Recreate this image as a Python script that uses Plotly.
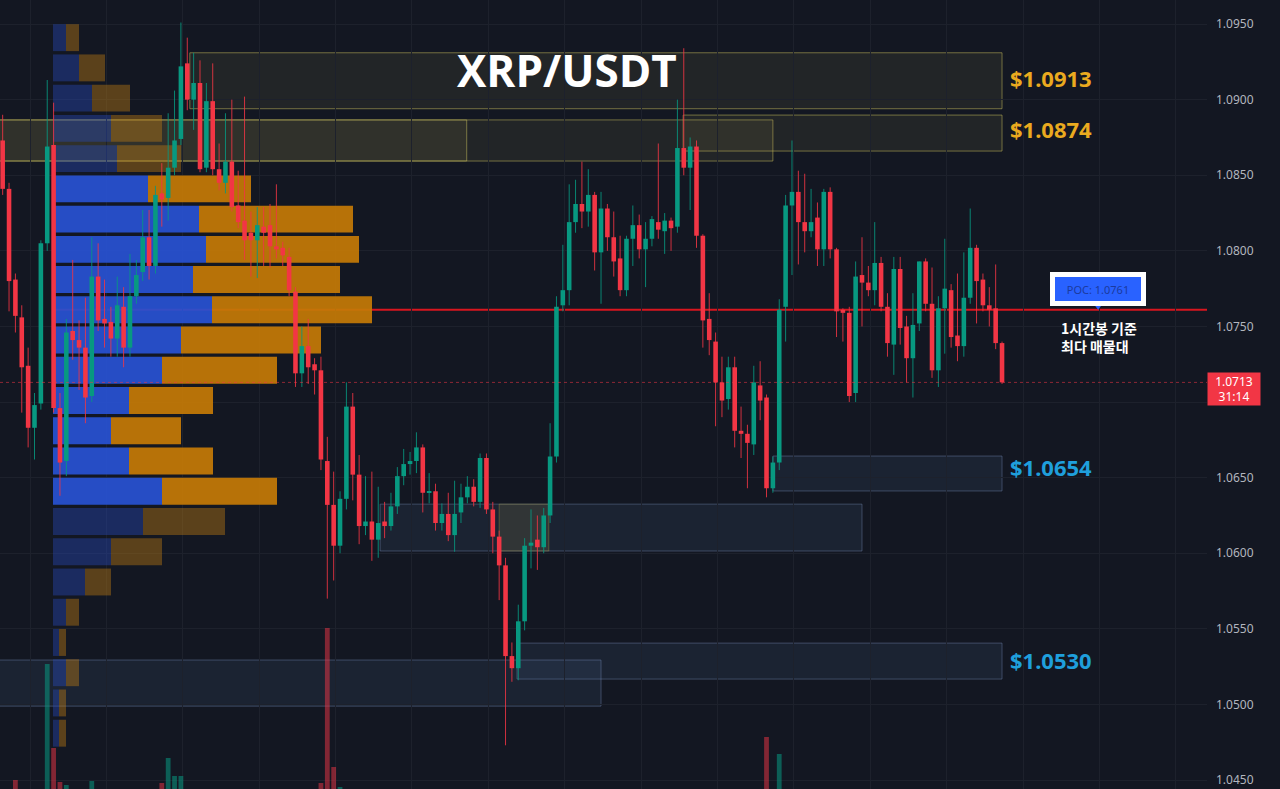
import plotly.graph_objects as go

# ---------------- data ----------------
opens = [1.0873,1.0841,1.0781,1.0756,1.0724,1.0683,1.0699,1.0805,1.0870,1.0696,
         1.0661,1.0747,1.0741,1.0736,1.0704,1.0783,1.0755,1.0753,1.0742,1.0763,
         1.0736,1.0770,1.0786,1.0809,1.0790,1.0838,1.0835,1.0855,1.0874,1.0924,
         1.0900,1.0911,1.0855,1.0899,1.0854,1.0845,1.0859,1.0830,1.0820,1.0812,
         1.0807,1.0816,1.0817,1.0803,1.0802,1.0796,1.0773,1.0719,1.0737,1.0725,
         1.0721,1.0661,1.0632,1.0605,1.0636,1.0697,1.0652,1.0618,1.0621,1.0609,
         1.0621,1.0618,1.0631,1.0651,1.0659,1.0661,1.0670,1.0640,1.0641,1.0620,
         1.0626,1.0612,1.0627,1.0637,1.0644,1.0634,1.0663,1.0629,1.0611,1.0592,
         1.0532,1.0524,1.0555,1.0605,1.0609,1.0604,1.0625,1.0664,1.0764,1.0774,
         1.0819,1.0831,1.0826,1.0837,1.0799,1.0828,1.0809,1.0795,1.0774,1.0808,
         1.0817,1.0801,1.0808,1.0819,1.0813,1.0820,1.0816,1.0868,1.0855,1.0869,
         1.0810,1.0755,1.0740,1.0713,1.0702,1.0723,1.0681,1.0679,1.0672,1.0711,
         1.0703,1.0643,1.0660,1.0763,1.0830,1.0839,1.0819,1.0813,1.0822,1.0801,
         1.0839,1.0801,1.0761,1.0759,1.0706,1.0784,1.0779,1.0774,1.0792,1.0763,
         1.0738,1.0788,1.0750,1.0729,1.0752,1.0793,1.0765,1.0721,1.0762,1.0774,
         1.0744,1.0737,1.0769,1.0802,1.0781,1.0764,1.0762,1.0739]
highs = [1.0890,1.0845,1.0785,1.0764,1.0736,1.0706,1.0807,1.0913,1.0898,1.0706,
         1.0755,1.0794,1.0754,1.0769,1.0809,1.0805,1.0781,1.0763,1.0783,1.0776,
         1.0798,1.0794,1.0827,1.0827,1.0843,1.0858,1.0891,1.0906,1.0951,1.0941,
         1.0931,1.0926,1.0911,1.0924,1.0871,1.0891,1.0900,1.0853,1.0902,1.0826,
         1.0829,1.0829,1.0831,1.0844,1.0806,1.0802,1.0776,1.0750,1.0755,1.0729,
         1.0730,1.0677,1.0654,1.0641,1.0713,1.0706,1.0665,1.0651,1.0654,1.0644,
         1.0634,1.0640,1.0657,1.0669,1.0667,1.0680,1.0672,1.0653,1.0646,1.0633,
         1.0640,1.0648,1.0646,1.0651,1.0649,1.0666,1.0666,1.0634,1.0615,1.0597,
         1.0541,1.0566,1.0610,1.0629,1.0625,1.0630,1.0686,1.0770,1.0804,1.0844,
         1.0847,1.0859,1.0854,1.0839,1.0839,1.0831,1.0826,1.0810,1.0810,1.0830,
         1.0824,1.0819,1.0823,1.0871,1.0825,1.0822,1.0900,1.0934,1.0875,1.0873,
         1.0811,1.0772,1.0746,1.0730,1.0730,1.0730,1.0697,1.0685,1.0724,1.0727,
         1.0705,1.0664,1.0768,1.0837,1.0873,1.0853,1.0851,1.0841,1.0832,1.0841,
         1.0842,1.0802,1.0762,1.0763,1.0793,1.0809,1.0790,1.0819,1.0796,1.0772,
         1.0796,1.0796,1.0757,1.0772,1.0793,1.0795,1.0789,1.0770,1.0808,1.0778,
         1.0785,1.0799,1.0828,1.0804,1.0785,1.0776,1.0791,1.0740]
lows = [1.0837,1.0760,1.0746,1.0693,1.0670,1.0662,1.0695,1.0800,1.0693,1.0638,
        1.0651,1.0728,1.0708,1.0686,1.0700,1.0747,1.0736,1.0730,1.0730,1.0723,
        1.0730,1.0765,1.0780,1.0781,1.0785,1.0816,1.0820,1.0850,1.0870,1.0893,
        1.0880,1.0852,1.0852,1.0850,1.0840,1.0838,1.0826,1.0815,1.0794,1.0783,
        1.0782,1.0790,1.0789,1.0795,1.0790,1.0770,1.0710,1.0710,1.0712,1.0705,
        1.0655,1.0570,1.0582,1.0600,1.0629,1.0635,1.0606,1.0612,1.0595,1.0597,
        1.0610,1.0615,1.0626,1.0645,1.0652,1.0653,1.0627,1.0633,1.0615,1.0615,
        1.0608,1.0601,1.0620,1.0633,1.0631,1.0630,1.0626,1.0600,1.0569,1.0473,
        1.0515,1.0516,1.0549,1.0590,1.0589,1.0600,1.0620,1.0660,1.0760,1.0764,
        1.0812,1.0815,1.0816,1.0787,1.0765,1.0800,1.0783,1.0770,1.0770,1.0790,
        1.0795,1.0776,1.0803,1.0808,1.0798,1.0800,1.0812,1.0850,1.0827,1.0802,
        1.0736,1.0731,1.0684,1.0690,1.0695,1.0670,1.0663,1.0643,1.0665,1.0688,
        1.0637,1.0640,1.0655,1.0740,1.0784,1.0791,1.0799,1.0809,1.0790,1.0790,
        1.0795,1.0743,1.0740,1.0700,1.0700,1.0750,1.0770,1.0764,1.0760,1.0730,
        1.0718,1.0738,1.0713,1.0703,1.0747,1.0760,1.0716,1.0710,1.0732,1.0736,
        1.0727,1.0730,1.0765,1.0752,1.0760,1.0750,1.0735,1.0712]
closes = [1.0841,1.0780,1.0757,1.0723,1.0683,1.0698,1.0805,1.0869,1.0696,1.0660,
          1.0746,1.0741,1.0736,1.0703,1.0783,1.0754,1.0752,1.0742,1.0764,1.0736,
          1.0770,1.0784,1.0809,1.0790,1.0837,1.0834,1.0855,1.0873,1.0922,1.0900,
          1.0911,1.0854,1.0899,1.0854,1.0845,1.0859,1.0829,1.0819,1.0807,1.0807,
          1.0817,1.0812,1.0803,1.0801,1.0797,1.0774,1.0719,1.0737,1.0723,1.0721,
          1.0662,1.0632,1.0605,1.0636,1.0697,1.0652,1.0618,1.0621,1.0609,1.0620,
          1.0618,1.0631,1.0651,1.0659,1.0661,1.0670,1.0640,1.0641,1.0620,1.0626,
          1.0612,1.0626,1.0637,1.0644,1.0634,1.0663,1.0629,1.0611,1.0592,1.0532,
          1.0524,1.0555,1.0605,1.0607,1.0604,1.0625,1.0664,1.0763,1.0774,1.0819,
          1.0831,1.0826,1.0837,1.0799,1.0828,1.0809,1.0793,1.0774,1.0808,1.0817,
          1.0801,1.0808,1.0821,1.0814,1.0820,1.0815,1.0868,1.0855,1.0869,1.0810,
          1.0754,1.0741,1.0713,1.0701,1.0723,1.0681,1.0679,1.0673,1.0713,1.0701,
          1.0643,1.0660,1.0761,1.0830,1.0839,1.0819,1.0813,1.0819,1.0801,1.0839,
          1.0801,1.0760,1.0759,1.0704,1.0783,1.0779,1.0774,1.0792,1.0763,1.0739,
          1.0788,1.0749,1.0729,1.0751,1.0793,1.0765,1.0721,1.0762,1.0775,1.0743,
          1.0737,1.0769,1.0802,1.0780,1.0764,1.0761,1.0739,1.0713]
volumes = [72, 64, 109, 58, 66, 81, 70, 225, 141, 107,
           104, 62, 48, 55, 108, 60, 44, 41, 52, 47,
           50, 45, 63, 49, 71, 106, 131, 113, 113, 88,
           75, 84, 70, 77, 52, 58, 66, 49, 72, 44,
           41, 38, 46, 50, 39, 57, 83, 55, 47, 42,
           106, 261, 122, 102, 86, 74, 69, 45, 52, 48,
           36, 41, 57, 44, 33, 46, 62, 38, 51, 40,
           47, 53, 45, 39, 42, 66, 71, 63, 79, 97,
           85, 78, 92, 54, 49, 61, 88, 97, 74, 83,
           58, 55, 47, 61, 66, 49, 52, 58, 62, 50,
           48, 44, 41, 63, 39, 37, 94, 98, 66, 89,
           91, 57, 73, 52, 49, 77, 46, 60, 81, 58,
           152, 64, 135, 96, 72, 61, 48, 42, 55, 63,
           59, 74, 38, 80, 77, 52, 35, 58, 49, 54,
           71, 62, 55, 60, 64, 51, 68, 66, 57, 53,
           48, 59, 67, 61, 44, 37, 52, 46]

# volume profile (price bins, buy / sell volume)
profile_prices = [1.0941, 1.0921, 1.0901, 1.0881, 1.0861, 1.0841, 1.0821, 1.0801,
                  1.0781, 1.0761, 1.0741, 1.0721, 1.0701, 1.0681, 1.0661, 1.0641,
                  1.0621, 1.0601, 1.0581, 1.0561, 1.0541, 1.0521, 1.0501, 1.0481]
buy_vol = [13, 26, 39, 58, 64, 95, 146, 153, 140, 159, 128, 109,
           76, 58, 76, 109, 90, 58, 32, 13, 6, 13, 6, 6]
sell_vol = [13, 26, 38, 51, 64, 103, 154, 153, 147, 160, 140, 115,
            84, 70, 84, 115, 82, 51, 26, 13, 7, 13, 7, 7]
value_area = (1.0640, 1.0845)

poc_price = 1.0761
last_price = 1.0713
countdown = "31:14"
levels_yellow = [1.0913, 1.0874]
levels_blue = [1.0654, 1.0530]
y_ticks = [1.0450, 1.0500, 1.0550, 1.0600, 1.0650, 1.0700, 1.0750, 1.0800, 1.0850, 1.0900, 1.0950]
y_labels = ["1.0450", "1.0500", "1.0550", "1.0600", "1.0650", "", "1.0750", "1.0800", "1.0850", "1.0900", "1.0950"]

# ---------------- styling ----------------
BG = "#131722"
UP = "#089981"
DN = "#f23645"
GRID = "#1d212c"

n = len(opens)
idx = list(range(n))
fig = go.Figure()

# volume profile on base axes (x, y)
in_va = [value_area[0] <= p <= value_area[1] for p in profile_prices]
buy_col = ["rgba(40,82,210,0.93)" if v else "rgba(40,75,190,0.40)" for v in in_va]
sell_col = ["rgba(196,122,6,0.93)" if v else "rgba(190,125,20,0.42)" for v in in_va]
fig.add_trace(go.Bar(orientation="h", y=profile_prices, x=buy_vol, base=[0] * len(buy_vol),
                     width=0.00178, marker=dict(color=buy_col, line=dict(width=0)),
                     xaxis="x", yaxis="y", hoverinfo="skip"))
fig.add_trace(go.Bar(orientation="h", y=profile_prices, x=sell_vol, base=buy_vol,
                     width=0.00178, marker=dict(color=sell_col, line=dict(width=0)),
                     xaxis="x", yaxis="y", hoverinfo="skip"))

# volume bars
vol_col = ["rgba(8,153,129,0.55)" if c >= o else "rgba(242,54,69,0.5)" for o, c in zip(opens, closes)]
fig.add_trace(go.Bar(x=idx, y=volumes, width=0.75, marker=dict(color=vol_col, line=dict(width=0)),
                     xaxis="x2", yaxis="y2", hoverinfo="skip"))

# candles: wicks + bodies
for up, col in ((True, UP), (False, DN)):
    wx, wy = [], []
    bx, by, bb = [], [], []
    for i in idx:
        o, h, l, c = opens[i], highs[i], lows[i], closes[i]
        if (c >= o) != up:
            continue
        wx += [i, i, None]
        wy += [l, h, None]
        bx.append(i)
        bb.append(min(o, c))
        by.append(max(abs(c - o), 0.00008))
    fig.add_trace(go.Scatter(x=wx, y=wy, mode="lines", line=dict(color=col, width=1),
                             opacity=0.85, xaxis="x2", yaxis="y", hoverinfo="skip"))
    fig.add_trace(go.Bar(x=bx, y=by, base=bb, width=0.72, marker=dict(color=col, line=dict(width=0)),
                         xaxis="x2", yaxis="y", hoverinfo="skip"))

shapes = []
YF = "rgba(165,155,85,0.11)"
YL = "rgba(190,180,90,0.55)"
BF = "rgba(90,120,170,0.12)"
BL = "rgba(110,130,170,0.45)"
zones = [
    (29.4, 157.0, 1.0894, 1.0931, YF, YL),
    (-1, 121.0, 1.08594, 1.08866, YF, YL),
    (-1, 72.9, 1.08594, 1.08866, YF, YL),
    (106.9, 157.0, 1.0866, 1.08898, YF, YL),
    (121.0, 157.0, 1.06412, 1.06643, BF, BL),
    (59.3, 135.0, 1.06015, 1.06325, BF, BL),
    (78.0, 85.8, 1.06015, 1.06325, "rgba(150,140,70,0.18)", "rgba(180,160,70,0.35)"),
    (80.8, 157.0, 1.05168, 1.05406, BF, BL),
    (-1, 94.0, 1.04989, 1.05294, BF, BL),
]
for x0, x1, y0, y1, fc, lc in zones:
    shapes.append(dict(type="rect", xref="x2", yref="y", x0=x0, x1=x1, y0=y0, y1=y1,
                       fillcolor=fc, line=dict(color=lc, width=1), layer="below"))

# POC line (starts at the profile edge)
shapes.append(dict(type="line", xref="x", yref="y", x0=0, x1=1154, y0=poc_price, y1=poc_price,
                   line=dict(color="#d8161f", width=2), layer="below"))
# last price dotted line
shapes.append(dict(type="line", xref="paper", yref="y", x0=0, x1=1, y0=last_price, y1=last_price,
                   line=dict(color="rgba(242,54,69,0.55)", width=1, dash="dot"), layer="above"))

annotations = [
    dict(text="<b>XRP/USDT</b>", xref="paper", yref="paper", x=0.4698, y=0.911,
         showarrow=False, font=dict(family="Open Sans", size=44, color="white"),
         xanchor="center", yanchor="middle"),
]
label_y = [1.09143, 1.08806]
for lv, yy in zip(levels_yellow, label_y):
    annotations.append(dict(text=f"<b>${lv:.4f}</b>", xref="x2", yref="y", x=157.9, y=yy,
                            showarrow=False, xanchor="left", yanchor="middle",
                            font=dict(family="Noto Sans", size=22, color="#eaaa1f")))
label_y = [1.0657, 1.05294]
for lv, yy in zip(levels_blue, label_y):
    annotations.append(dict(text=f"<b>${lv:.4f}</b>", xref="x2", yref="y", x=157.9, y=yy,
                            showarrow=False, xanchor="left", yanchor="middle",
                            font=dict(family="Noto Sans", size=22, color="#1f9fdc")))

annotations.append(dict(text=f"POC: {poc_price:.4f}", xref="x2", yref="y", x=172.1, y=1.0775,
                        showarrow=False, xanchor="center", yanchor="middle",
                        font=dict(family="Noto Sans", size=11, color="#1b3a9e"),
                        bgcolor="#2962ff", bordercolor="white", borderwidth=5, borderpad=3,
                        width=80, height=18))
annotations.append(dict(text="<b>1시간봉 기준<br>최다 매물대</b>", xref="x2", yref="y", x=172.2, y=1.07566,
                        showarrow=False, xanchor="center", yanchor="top", align="left",
                        font=dict(family="Noto Sans CJK KR", size=14, color="white")))
annotations.append(dict(text=f"{last_price:.4f}<br>{countdown}", xref="paper", yref="y", x=1.0, y=last_price,
                        showarrow=False, xanchor="left", yanchor="top", yshift=10, align="center",
                        font=dict(family="Noto Sans", size=12, color="white"),
                        bgcolor="#f23645", borderpad=2, width=48, height=28))

fig.add_trace(go.Scatter(x=[172.1], y=[1.07633], mode="markers", xaxis="x2", yaxis="y",
                         marker=dict(symbol="triangle-down", size=7, color="#2962ff"),
                         hoverinfo="skip"))

fig.update_layout(
    width=1280, height=789,
    margin=dict(l=0, r=73, t=0, b=0),
    paper_bgcolor=BG, plot_bgcolor=BG,
    showlegend=False, barmode="overlay",
    font=dict(family="Noto Sans", color="#b2b5be"),
    xaxis=dict(range=[-53, 1154], visible=False, fixedrange=True),
    xaxis2=dict(overlaying="x", range=[-0.42, 189.2], showgrid=True, gridcolor=GRID,
                tick0=4.3, dtick=12, showticklabels=False, zeroline=False, ticks=""),
    yaxis=dict(range=[1.04441, 1.09659], side="right", tickvals=y_ticks, ticktext=y_labels,
               showgrid=True, gridcolor=GRID, zeroline=False, ticks="",
               tickfont=dict(family="Noto Sans", size=12, color="#b2b5be"),
               ticklabelstandoff=8),
    yaxis2=dict(overlaying="y", range=[100, 889], visible=False),
    shapes=shapes, annotations=annotations,
)

fig.write_html("out.html", config={"displayModeBar": False},
               post_script="document.body.style.margin='0';document.body.style.background='#131722';")
